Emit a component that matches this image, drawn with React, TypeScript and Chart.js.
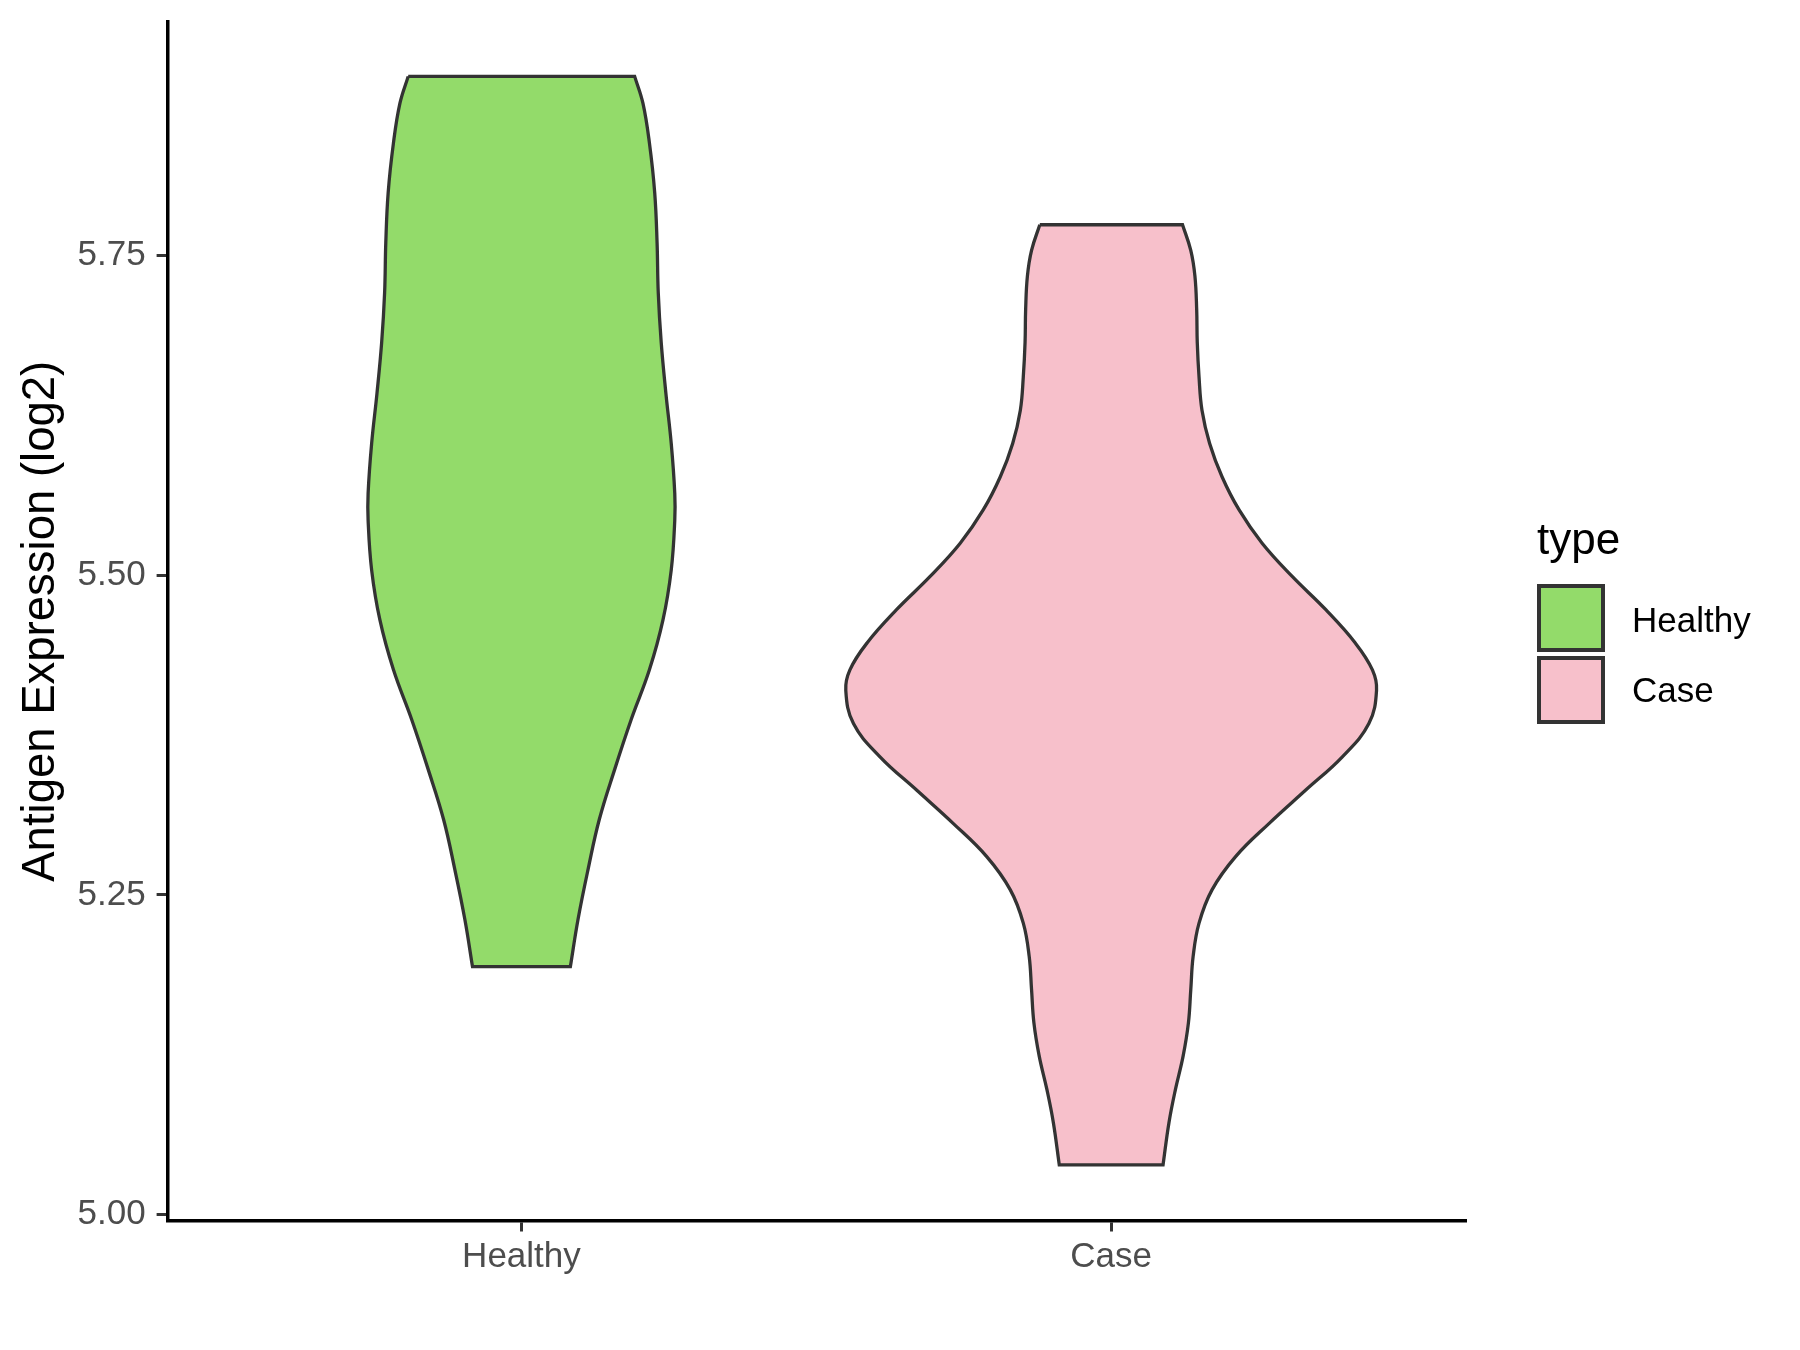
import React, { useEffect, useRef } from "react";
import { Chart, registerables } from "chart.js";

Chart.register(...registerables);

// ---- data ----
const categories = ["Healthy", "Case"];
const fillColors = ["#93DB6A", "#F7C0CB"];
const yTickValues = [5.0, 5.25, 5.5, 5.75];
const yAxisTitle = "Antigen Expression (log2)";
const legendTitle = "type";

// Healthy violin outline: expression value (top -> bottom) and half-width (category units)
const healthyY = [5.890, 5.869, 5.838, 5.799, 5.760, 5.721, 5.682, 5.642, 5.603, 5.564, 5.543, 5.504, 5.465, 5.426, 5.387, 5.348, 5.309, 5.270, 5.231, 5.194];
const healthyHalfWidth = [0.192, 0.206, 0.217, 0.226, 0.230, 0.232, 0.237, 0.245, 0.254, 0.260, 0.260, 0.254, 0.240, 0.217, 0.186, 0.158, 0.132, 0.113, 0.096, 0.083];

// Case violin outline
const caseY = [5.774, 5.754, 5.734, 5.708, 5.682, 5.655, 5.629, 5.603, 5.577, 5.551, 5.525, 5.499, 5.473, 5.447, 5.426, 5.410, 5.384, 5.358, 5.332, 5.306, 5.280, 5.254, 5.228, 5.202, 5.176, 5.150, 5.124, 5.098, 5.072, 5.039];
const caseHalfWidth = [0.121, 0.135, 0.142, 0.145, 0.146, 0.149, 0.154, 0.167, 0.188, 0.217, 0.256, 0.307, 0.364, 0.414, 0.443, 0.450, 0.437, 0.392, 0.330, 0.268, 0.211, 0.171, 0.149, 0.139, 0.135, 0.131, 0.122, 0.109, 0.098, 0.088];

const violinValues = [healthyY, caseY];
const violinWidths = [healthyHalfWidth, caseHalfWidth];

// Closed outline; corner points are repeated so the curved sides meet the flat ends sharply.
function outline(center: number, ys: number[], hw: number[]) {
  const n = ys.length;
  const pts: { x: number; y: number }[] = [];
  pts.push({ x: center - hw[0], y: ys[0] });
  for (let i = 0; i < n; i++) {
    const p = { x: center + hw[i], y: ys[i] };
    pts.push(p);
    if (i === 0 || i === n - 1) pts.push({ ...p });
  }
  for (let i = n - 1; i >= 0; i--) {
    const p = { x: center - hw[i], y: ys[i] };
    pts.push(p);
    if (i === n - 1) pts.push({ ...p });
  }
  return pts;
}

const FONT = '"Liberation Sans", Arial, sans-serif';

const legendPlugin = {
  id: "ggLegend",
  afterDraw(chart: any) {
    const ctx = chart.ctx;
    ctx.save();
    ctx.fillStyle = "#000000";
    ctx.textAlign = "left";
    ctx.textBaseline = "alphabetic";
    ctx.font = `44px ${FONT}`;
    ctx.fillText(legendTitle, 1537, 554);
    const boxTops = [584, 656];
    const baselines = [632, 702];
    categories.forEach((c, i) => {
      ctx.fillStyle = fillColors[i];
      ctx.fillRect(1539, boxTops[i] + 2, 64, 64);
      ctx.strokeStyle = "#333333";
      ctx.lineWidth = 4;
      ctx.strokeRect(1539, boxTops[i] + 2, 64, 64);
      ctx.fillStyle = "#000000";
      ctx.font = `35px ${FONT}`;
      ctx.fillText(c, 1632, baselines[i]);
    });
    ctx.restore();
  },
};

export default function App() {
  const ref = useRef<HTMLCanvasElement | null>(null);

  useEffect(() => {
    if (!ref.current) return;
    const datasets = categories.map((name, i) => ({
      label: name,
      data: outline(i + 1, violinValues[i], violinWidths[i]),
      borderColor: "#333333",
      borderWidth: 3.3,
      backgroundColor: fillColors[i],
      fill: "shape",
      pointRadius: 0,
      tension: 0.4,
      showLine: true,
    }));

    const chart = new Chart(ref.current, {
      type: "scatter",
      data: { datasets: datasets as any },
      plugins: [legendPlugin],
      options: {
        animation: false,
        responsive: false,
        devicePixelRatio: 1,
        layout: { padding: { left: 0, top: 22, right: 335, bottom: 0 } },
        plugins: {
          legend: { display: false },
          tooltip: { enabled: false },
        },
        elements: { line: { borderJoinStyle: "miter", capBezierPoints: false } },
        scales: {
          x: {
            type: "linear",
            min: 0.4,
            max: 2.6,
            afterBuildTicks: (scale: any) => {
              scale.ticks = categories.map((_, i) => ({ value: i + 1 }));
            },
            afterFit: (scale: any) => {
              scale.height = 129.5;
              scale.paddingLeft = 0;
              scale.paddingRight = 0;
            },
            ticks: {
              callback: (v: any) => categories[Math.round(Number(v)) - 1] ?? "",
              font: { family: FONT, size: 35 },
              color: "#4D4D4D",
              padding: 5,
              maxRotation: 0,
              autoSkip: false,
            },
            grid: {
              drawOnChartArea: false,
              drawTicks: true,
              tickLength: 11,
              color: "#333333",
              lineWidth: 3,
            },
            border: { display: true, color: "#000000", width: 3.5 },
          },
          y: {
            type: "linear",
            min: 4.9955,
            max: 5.9325,
            afterBuildTicks: (scale: any) => {
              scale.ticks = yTickValues.map((v) => ({ value: v }));
            },
            afterFit: (scale: any) => {
              scale.width = 167.6;
              scale.paddingTop = 0;
              scale.paddingBottom = 0;
            },
            ticks: {
              callback: (v: any) => Number(v).toFixed(2),
              font: { family: FONT, size: 35 },
              color: "#4D4D4D",
              padding: 11,
              autoSkip: false,
            },
            grid: {
              drawOnChartArea: false,
              drawTicks: true,
              tickLength: 11,
              color: "#333333",
              lineWidth: 3,
            },
            border: { display: true, color: "#000000", width: 3.5 },
            title: {
              display: true,
              text: yAxisTitle,
              color: "#000000",
              font: { family: FONT, size: 45.5 },
              padding: { top: 14, bottom: 0 },
            },
          },
        },
      },
    });
    return () => chart.destroy();
  }, []);

  return (
    <div style={{ position: "absolute", left: 0, top: 0, width: 1800, height: 1350, background: "#ffffff" }}>
      <canvas ref={ref} width={1800} height={1350} style={{ display: "block", width: 1800, height: 1350 }} />
    </div>
  );
}
